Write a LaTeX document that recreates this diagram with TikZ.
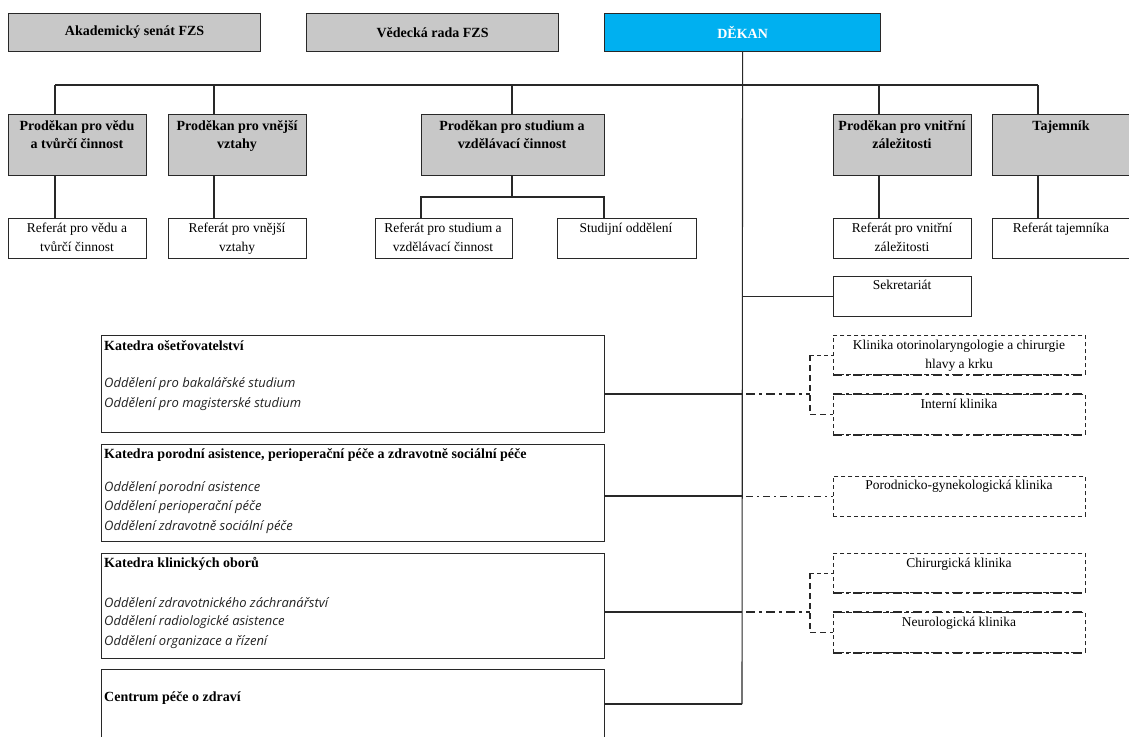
\documentclass[tikz,border=0pt]{standalone}
\usepackage{fontspec}
\setmainfont{Liberation Serif}
\newfontfamily\itfont{Open Sans}
\definecolor{boxgray}{RGB}{200,200,200}
\definecolor{dekanblue}{RGB}{0,176,240}
\definecolor{ln}{RGB}{40,40,40}
\definecolor{ittext}{RGB}{35,35,35}
\tikzset{
  graybox/.style={draw=ln, line width=1.2pt, fill=boxgray, anchor=north west, inner sep=0pt,
    font=\fontsize{14}{18}\selectfont\bfseries},
  whitebox/.style={draw=ln, line width=1.2pt, fill=white, anchor=north west, inner sep=0pt},
  dashbox/.style={draw=ln, line width=0.9pt, dash pattern=on 4pt off 3pt, anchor=north west, inner sep=0pt},
  thickdd/.style={draw=ln, line width=1.8pt, dash pattern=on 9pt off 4pt on 3pt off 4pt},
  thindash/.style={draw=ln, line width=0.9pt, dash pattern=on 4pt off 3pt},
  thinddot/.style={draw=ln, line width=0.9pt, dash pattern=on 7pt off 4pt on 2pt off 4pt},
  thickdash/.style={draw=ln, line width=1.8pt, dash pattern=on 6pt off 4pt},
  conn/.style={draw=ln, line width=1.1pt},
  tb/.style={font=\fontsize{14}{18.5}\selectfont\bfseries, align=center, inner sep=0pt, anchor=north},
  tr/.style={font=\fontsize{13.5}{18.5}\selectfont, align=center, inner sep=0pt, anchor=north},
  kt/.style={font=\fontsize{14}{18}\selectfont\bfseries, inner sep=0pt, anchor=west},
  ki/.style={font=\itfont\itshape\fontsize{13}{15}\selectfont, text=ittext, inner sep=0pt, anchor=west},
}
\begin{document}
\begin{tikzpicture}[x=1pt,y=-1pt]
\useasboundingbox (0,0) rectangle (1129,736);

% top row
\node[graybox, minimum width=252pt, minimum height=38pt] (senat) at (8,13) {Akademický senát FZS};
\node[graybox, minimum width=252pt, minimum height=38pt] (rada) at (306,13) {Vědecká rada FZS};
\node[graybox, fill=dekanblue, text=white, minimum width=276pt, minimum height=38pt] (dekan) at (604,13) {DĚKAN};

% prodekan row
\node[graybox, minimum width=138pt, minimum height=61pt] (pv) at (8,114) {};
\node[graybox, minimum width=138pt, minimum height=61pt] (pz) at (168,114) {};
\node[graybox, minimum width=183pt, minimum height=61pt] (ps) at (421,114) {};
\node[graybox, minimum width=138pt, minimum height=61pt] (pi) at (833,114) {};
\node[graybox, minimum width=145pt, minimum height=61pt] (taj) at (992,114) {};
\node[tb] (pvt) at (77,120) {Proděkan pro vědu\\a tvůrčí činnost};
\node[tb] (pzt) at (237,120) {Proděkan pro vnější\\vztahy};
\node[tb] (pst) at (512,120) {Proděkan pro studium a\\vzdělávací činnost};
\node[tb] (pit) at (902,120) {Proděkan pro vnitřní\\záležitosti};
\node[tb] (tajt) at (1061,121) {Tajemník};

% referat row
\node[whitebox, minimum width=138pt, minimum height=40pt] (rv) at (8,218) {};
\node[whitebox, minimum width=138pt, minimum height=40pt] (rz) at (168,218) {};
\node[whitebox, minimum width=137pt, minimum height=40pt] (rs) at (375,218) {};
\node[whitebox, minimum width=139pt, minimum height=40pt] (so) at (557,218) {};
\node[whitebox, minimum width=138pt, minimum height=40pt] (ri) at (833,218) {};
\node[whitebox, minimum width=145pt, minimum height=40pt] (rt) at (992,218) {};
\node[whitebox, minimum width=138pt, minimum height=40pt] (sek) at (833,276) {};
\node[tr] (rvt) at (77,223) {Referát pro vědu a\\tvůrčí činnost};
\node[tr] (rzt) at (237,223) {Referát pro vnější\\vztahy};
\node[tr] (rst) at (443,223) {Referát pro studium a\\vzdělávací činnost};
\node[tr] (sot) at (626,223) {Studijní oddělení};
\node[tr] (rit) at (902,223) {Referát pro vnitřní\\záležitosti};
\node[tr] (rtt) at (1061,223) {Referát tajemníka};
\node[tr] (sekt) at (902,280) {Sekretariát};

% katedry
\node[whitebox, minimum width=503pt, minimum height=97pt] (k1) at (101,335) {};
\node[whitebox, minimum width=503pt, minimum height=97pt] (k2) at (101,444) {};
\node[whitebox, minimum width=503pt, minimum height=105pt] (k3) at (101,553) {};
\node[whitebox, minimum width=503pt, minimum height=110pt] (k4) at (101,669) {};
\node[kt] (k1t) at (104,346) {Katedra ošetřovatelství};
\node[ki] (k1a) at (104,384) {Oddělení pro bakalářské studium};
\node[ki] (k1b) at (104,404) {Oddělení pro magisterské studium};
\node[kt] (k2t) at (104,455) {Katedra porodní asistence, perioperační péče a zdravotně sociální péče};
\node[ki] (k2a) at (104,488) {Oddělení porodní asistence};
\node[ki] (k2b) at (104,507) {Oddělení perioperační péče};
\node[ki] (k2c) at (104,527) {Oddělení zdravotně sociální péče};
\node[kt] (k3t) at (104,564) {Katedra klinických oborů};
\node[ki] (k3a) at (104,603) {Oddělení zdravotnického záchranářství};
\node[ki] (k3b) at (104,622) {Oddělení radiologické asistence};
\node[ki] (k3c) at (104,642) {Oddělení organizace a řízení};
\node[kt] (k4t) at (104,698) {Centrum péče o zdraví};

% kliniky
\node[dashbox, minimum width=252pt, minimum height=39pt] (oto) at (833,335) {};
\node[dashbox, minimum width=252pt, minimum height=40pt] (int) at (833,394) {};
\node[dashbox, minimum width=252pt, minimum height=40pt] (pg) at (833,476) {};
\node[dashbox, minimum width=252pt, minimum height=39pt] (chir) at (833,553) {};
\node[dashbox, minimum width=252pt, minimum height=40pt] (neu) at (833,612) {};
\draw[thickdd] (oto.south west) -- (oto.south east);
\draw[thickdd] (int.north west) -- (int.north east);
\draw[thickdd] (int.south west) -- (int.south east);
\draw[thickdd] (chir.south west) -- (chir.south east);
\draw[thickdd] (neu.north west) -- (neu.north east);
\draw[thickdd] (neu.south west) -- (neu.south east);
\node[tr] (otot) at (959,340) {Klinika otorinolaryngologie a chirurgie\\hlavy a krku};
\node[tr] (intt) at (959,399) {Interní klinika};
\node[tr] (pgt) at (959,480) {Porodnicko-gynekologická klinika};
\node[tr] (chirt) at (959,558) {Chirurgická klinika};
\node[tr] (neut) at (959,617) {Neurologická klinika};

% main connectors
\coordinate (dend) at (742,704);
\draw[conn] (dekan.south) -- (dend);
\coordinate (busL) at (55,85);
\coordinate (busR) at (1038,85);
\draw[conn] (busL) -- (busR);
\coordinate (b2) at (214,85);
\coordinate (b3) at (512,85);
\coordinate (b4) at (879,85);
\draw[conn] (busL) -- (busL |- pv.north);
\draw[conn] (busL |- pv.south) -- (busL |- rv.north);
\draw[conn] (b2) -- (b2 |- pz.north);
\draw[conn] (b2 |- pz.south) -- (b2 |- rz.north);
\draw[conn] (b3) -- (b3 |- ps.north);
\draw[conn] (b4) -- (b4 |- pi.north);
\draw[conn] (b4 |- pi.south) -- (b4 |- ri.north);
\draw[conn] (busR) -- (busR |- taj.north);
\draw[conn] (busR |- taj.south) -- (busR |- rt.north);
\coordinate (sbL) at (421,197);
\coordinate (sbR) at (604,197);
\draw[conn] (b3 |- ps.south) -- (b3 |- sbL);
\draw[conn] (sbL |- rs.north) -- (sbL) -- (sbR) -- (sbR |- so.north);
\draw[conn] (sek.west -| dekan.south) -- (sek.west);
\coordinate (j1) at (742,394);
\coordinate (j2) at (742,496);
\coordinate (j3) at (742,612);
\draw[conn] (j1) -- (j1 -| k1.east);
\draw[conn] (j2) -- (j2 -| k2.east);
\draw[conn] (j3) -- (j3 -| k3.east);
\draw[conn] (dend) -- (dend -| k4.east);

% clinic connectors
\coordinate (c1) at (746,394);
\coordinate (br1) at (810,394);
\draw[thickdd] (c1) -- (br1);
\draw[thickdash] (810,355) -- (810,414);
\draw[thindash] (oto.west -| br1) -- (oto.west);
\draw[thickdash] (int.west -| br1) -- (int.west);
\coordinate (c2) at (746,496);
\draw[thinddot] (c2) -- (c2 -| pg.west);
\coordinate (c3) at (746,612);
\coordinate (br3) at (810,612);
\draw[thickdd] (c3) -- (br3);
\draw[thickdash] (810,573) -- (810,632);
\draw[thindash] (chir.west -| br3) -- (chir.west);
\draw[thickdash] (neu.west -| br3) -- (neu.west);
\end{tikzpicture}
\end{document}
